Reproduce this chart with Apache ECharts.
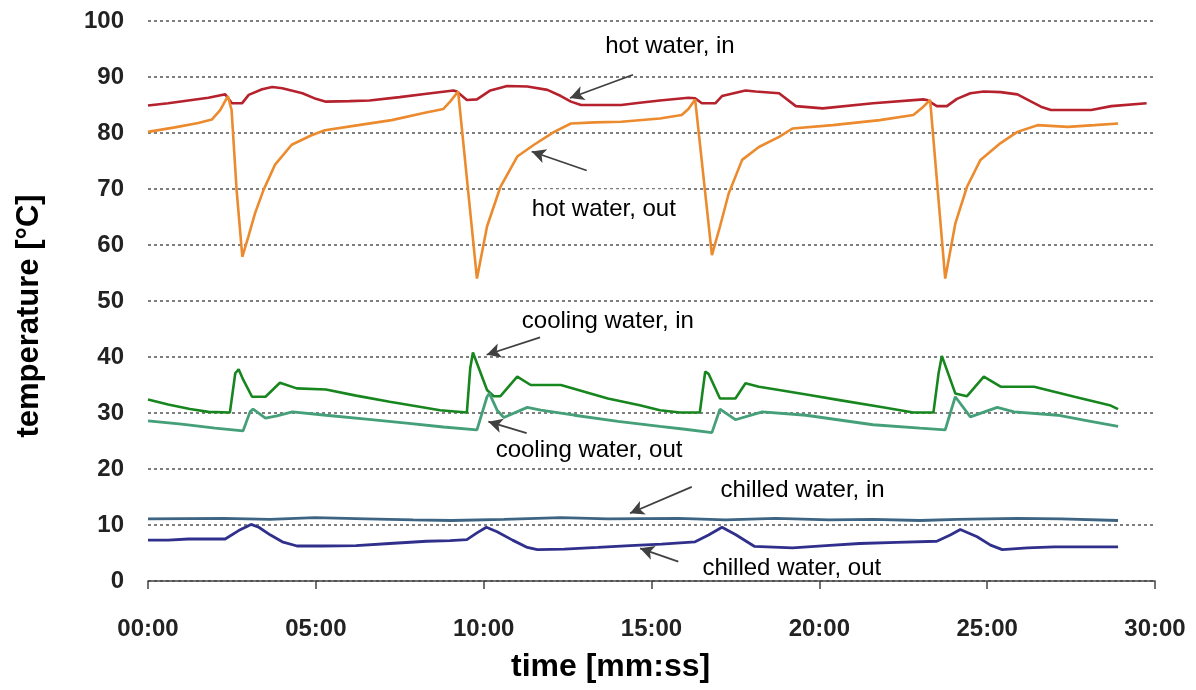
<!DOCTYPE html>
<html>
<head>
<meta charset="utf-8">
<script src="https://cdn.jsdelivr.net/npm/echarts@6/dist/echarts.min.js"></script>
<style>
html,body{margin:0;padding:0;background:#fff;}
#chart{width:1196px;height:690px;}
</style>
</head>
<body>
<div id="chart"></div>
<script>
// time in minutes, temperature in °C
const xTicks = [0, 5, 10, 15, 20, 25, 30];
const yTicks = [0, 10, 20, 30, 40, 50, 60, 70, 80, 90, 100];

const hotIn = [[0,84.9],[0.6,85.3],[1.2,85.8],[1.8,86.3],[2.2,86.8],[2.3,86.9],[2.5,85.3],[2.8,85.3],[3.0,86.8],[3.4,87.8],[3.7,88.2],[4.0,88.0],[4.6,87.1],[5.0,86.1],[5.3,85.6],[6.0,85.7],[6.6,85.8],[7.5,86.4],[8.3,87.0],[9.1,87.6],[9.2,87.4],[9.5,85.9],[9.8,86.0],[10.2,87.6],[10.7,88.4],[11.3,88.3],[11.9,87.7],[12.3,86.6],[12.6,85.6],[12.9,85.0],[14.1,85.0],[14.65,85.4],[15.25,85.8],[16.1,86.3],[16.3,86.2],[16.5,85.3],[16.9,85.3],[17.1,86.6],[17.8,87.6],[18.1,87.4],[18.8,87.1],[19.3,84.8],[20.1,84.4],[21.6,85.3],[23.1,86.0],[23.2,85.9],[23.5,84.8],[23.8,84.8],[24.1,86.1],[24.5,87.1],[24.9,87.4],[25.4,87.3],[25.9,86.9],[26.6,84.7],[26.9,84.1],[28.1,84.1],[28.7,84.8],[29.75,85.3]];

const hotOut = [[0,80.2],[0.8,81.0],[1.5,81.8],[1.9,82.4],[2.15,84.1],[2.38,86.6],[2.49,84.1],[2.64,69.8],[2.81,57.9],[2.99,61.5],[3.19,65.7],[3.44,69.8],[3.78,74.3],[4.28,77.9],[4.87,79.6],[5.27,80.5],[6.27,81.4],[7.26,82.3],[8.25,83.6],[8.8,84.3],[9.0,85.6],[9.24,87.4],[9.8,54.0],[10.1,63.3],[10.5,70.4],[11.0,75.8],[11.5,77.9],[12.1,80.2],[12.6,81.7],[13.3,81.9],[14.1,82.0],[15.25,82.6],[15.9,83.2],[16.1,84.3],[16.3,86.0],[16.8,58.2],[17.04,63.3],[17.3,69.2],[17.7,75.2],[18.2,77.5],[18.8,79.3],[19.2,80.8],[20.4,81.4],[21.8,82.3],[22.8,83.2],[23.1,84.7],[23.3,85.9],[23.75,54.0],[24.05,63.8],[24.4,70.4],[24.8,75.2],[25.4,78.2],[25.9,80.2],[26.5,81.4],[27.4,81.1],[28.2,81.4],[28.9,81.7]];

const coolIn = [[0,32.4],[0.6,31.5],[1.25,30.7],[1.8,30.2],[2.44,30.1],[2.6,37.1],[2.7,37.8],[2.84,35.9],[3.1,32.9],[3.5,32.9],[3.93,35.4],[4.43,34.4],[5.3,34.2],[6.2,33.1],[7.2,32.0],[8.0,31.2],[8.7,30.5],[9.5,30.1],[9.6,38.0],[9.68,40.8],[10.1,34.1],[10.3,33.0],[10.5,33.0],[11.0,36.5],[11.4,35.0],[12.3,35.0],[13.0,33.8],[13.7,32.6],[14.65,31.4],[15.25,30.5],[15.85,30.1],[16.44,30.1],[16.6,37.4],[16.7,37.0],[17.04,32.6],[17.5,32.6],[17.8,35.3],[18.2,34.7],[18.8,34.1],[19.7,33.2],[20.6,32.3],[21.8,31.1],[22.8,30.1],[23.4,30.1],[23.55,37.0],[23.65,40.2],[24.05,33.5],[24.4,33.0],[24.9,36.5],[25.4,34.7],[26.4,34.7],[27.6,32.9],[28.65,31.4],[28.9,30.7]];

const coolOut = [[0,28.6],[1.0,28.0],[2.0,27.3],[2.83,26.8],[3.04,30.2],[3.13,30.7],[3.5,29.1],[3.84,29.5],[4.3,30.2],[5.3,29.6],[6.5,28.9],[7.7,28.2],[8.8,27.5],[9.8,27.0],[10.1,32.9],[10.17,33.5],[10.4,30.5],[10.6,29.2],[11.3,31.0],[11.7,30.5],[12.7,29.6],[14.0,28.5],[15.25,27.6],[16.0,27.1],[16.8,26.5],[17.04,30.7],[17.5,28.8],[18.3,30.2],[19.6,29.6],[21.6,27.9],[23.0,27.3],[23.75,27.0],[24.05,32.9],[24.5,29.3],[25.3,31.0],[25.8,30.2],[27.1,29.6],[28.0,28.6],[28.9,27.6]];

const chillIn = [[0,11.1],[2.26,11.2],[3.63,11.0],[4.97,11.3],[6.5,11.1],[7.9,10.9],[9.05,10.8],[10.6,11.0],[12.3,11.3],[13.7,11.1],[15.8,11.2],[17.2,10.9],[18.7,11.2],[20.3,10.9],[21.6,11.0],[23.0,10.8],[24.1,11.0],[25.9,11.2],[27.2,11.1],[28.9,10.8]];

const chillOut = [[0,7.3],[0.6,7.3],[1.2,7.5],[2.3,7.5],[2.7,9.0],[3.07,10.1],[3.3,9.6],[3.65,8.2],[4.0,7.0],[4.44,6.25],[5.2,6.25],[6.2,6.3],[7.2,6.7],[8.3,7.1],[9.0,7.2],[9.5,7.4],[9.8,8.6],[10.08,9.6],[10.4,8.8],[10.86,7.3],[11.3,6.0],[11.6,5.6],[12.4,5.7],[13.4,6.0],[14.36,6.3],[15.3,6.6],[16.3,7.0],[16.7,8.2],[17.1,9.6],[17.5,8.3],[18.06,6.2],[19.2,5.9],[20.2,6.3],[21.2,6.7],[22.3,6.9],[23.5,7.1],[23.9,8.2],[24.2,9.2],[24.7,7.9],[25.1,6.4],[25.45,5.6],[26.2,5.9],[27.0,6.1],[28.0,6.1],[28.9,6.1]];

// annotation labels: [text, t, value]
const labels = [
  ['hot water, in', 15.55, 95.5],
  ['hot water, out', 13.58, 66.4],
  ['cooling water, in', 13.7, 46.3],
  ['cooling water, out', 13.14, 23.4],
  ['chilled water, in', 19.5, 16.1],
  ['chilled water, out', 19.18, 2.3]
];
// arrows: [tailT, tailV, headT, headV]
const arrows = [
  [14.45, 90.4, 12.57, 86.25],
  [13.07, 73.3, 11.43, 76.7],
  [11.68, 43.5, 10.09, 40.4],
  [11.28, 26.4, 10.14, 28.45],
  [16.2, 16.8, 14.36, 12.1],
  [15.8, 3.45, 14.66, 5.84]
];

const FONT = 'Liberation Sans, Arial, sans-serif';
const chart = echarts.init(document.getElementById('chart'));

function mkSeries(name, data, color, width) {
  return {
    name, type: 'line', data, showSymbol: false, symbol: 'none',
    lineStyle: { color, width }, itemStyle: { color }, animation: false, z: 3
  };
}

const series = [
  mkSeries('hot water, in', hotIn, '#b5212d', 2.6),
  mkSeries('hot water, out', hotOut, '#ec8a2e', 2.6),
  mkSeries('cooling water, in', coolIn, '#18861e', 2.6),
  mkSeries('cooling water, out', coolOut, '#45a079', 2.8),
  mkSeries('chilled water, in', chillIn, '#3d6482', 2.8),
  mkSeries('chilled water, out', chillOut, '#30308c', 2.8)
];

series.push({
  name: 'annotations', type: 'line', data: [], silent: true, animation: false, z: 5,
  markLine: {
    silent: true, animation: false,
    symbol: ['none', 'arrow'], symbolSize: [11, 14],
    lineStyle: { color: '#404040', width: 1.8, type: 'solid' },
    label: { show: false },
    data: arrows.map(a => [{ coord: [a[0], a[1]] }, { coord: [a[2], a[3]] }])
  },
  markPoint: {
    silent: true, animation: false, symbol: 'rect', symbolSize: 0,
    data: labels.map((l, i) => ({
      coord: [l[1], l[2]],
      label: {
        show: true, position: 'inside', formatter: l[0],
        fontFamily: FONT, fontSize: 24, color: '#000',
        backgroundColor: i === 1 ? '#fff' : 'transparent',
        padding: i === 1 ? [8, 10] : 0
      }
    }))
  }
});

chart.setOption({
  backgroundColor: '#fff',
  animation: false,
  grid: { left: 148, right: 41, top: 21, bottom: 109, containLabel: false },
  xAxis: {
    type: 'value', min: 0, max: 30, interval: 5,
    axisLine: { show: true, lineStyle: { color: '#444', width: 1.5 } },
    axisTick: { show: true, length: 8, lineStyle: { color: '#444', width: 1.5 } },
    splitLine: { show: false },
    axisLabel: {
      margin: 36, fontFamily: FONT, fontWeight: 'bold', fontSize: 24, color: '#222',
      formatter: v => (xTicks.includes(v) ? String(v).padStart(2, '0') + ':00' : '')
    }
  },
  yAxis: {
    type: 'value', min: 0, max: 100, interval: 10,
    axisLine: { show: false }, axisTick: { show: false },
    splitLine: { show: true, lineStyle: { color: '#555', width: 1.5, type: [3, 3] } },
    axisLabel: {
      margin: 24, fontFamily: FONT, fontWeight: 'bold', fontSize: 24, color: '#222',
      formatter: v => (yTicks.includes(v) ? String(v) : '')
    }
  },
  graphic: [
    { type: 'text', left: 511, top: 651, style: { text: 'time [mm:ss]', fontFamily: FONT, fontWeight: 'bold', fontSize: 32, fill: '#000' } },
    { type: 'text', x: 29, y: 316, rotation: Math.PI / 2, style: { text: 'temperature [°C]', fontFamily: FONT, fontWeight: 'bold', fontSize: 31, fill: '#000', align: 'center', verticalAlign: 'middle' } }
  ],
  series
});
</script>
</body>
</html>
